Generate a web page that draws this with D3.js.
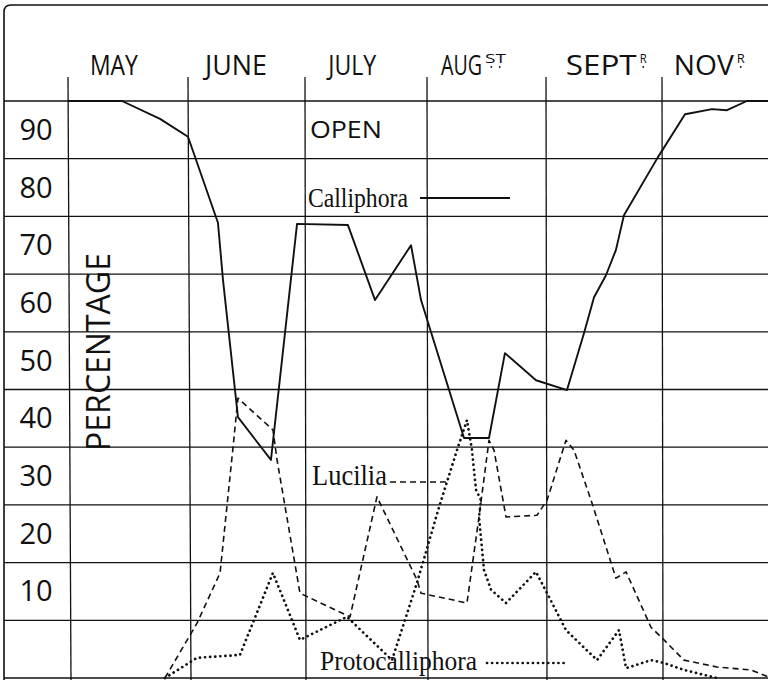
<!DOCTYPE html>
<html><head><meta charset="utf-8">
<script src="https://cdn.jsdelivr.net/npm/d3@7/dist/d3.min.js"></script>
<style>html,body{margin:0;padding:0;background:#fff;} svg{display:block;}</style>
</head><body>
<svg id="c" width="768" height="680"></svg>
<script>
// ---- data ----
const months = ["MAY", "JUNE", "JULY", "AUG", "SEPT", "NOV"];
const monthSup = ["", "", "", "ST", "R", "R"];
const yTicks = [90, 80, 70, 60, 50, 40, 30, 20, 10];
const seriesNames = ["Calliphora", "Lucilia", "Protocalliphora"];
const annotation = "OPEN";
const axisTitle = "PERCENTAGE";

// month position (0 = start of May column, each unit one column)
const calliphoraMonth = [0, 0.45, 0.767, 1.0, 1.256, 1.299, 1.427, 1.709, 1.932, 2.352, 2.574, 2.869, 2.951, 3.311, 3.521, 3.655, 3.916, 4.181, 4.328, 4.414, 4.517, 4.603, 4.672, 4.96, 5.195, 5.424, 5.551, 5.72, 5.898];
const calliphoraPct = [100, 100, 96.9, 93.8, 78.9, 69.0, 45.2, 37.8, 78.7, 78.5, 65.5, 75.0, 65.5, 41.6, 41.6, 56.3, 51.6, 49.9, 59.8, 66.0, 69.8, 74.2, 80.2, 90.1, 97.7, 98.6, 98.4, 100, 100];

const luciliaMonth = [0.808, 1.077, 1.274, 1.385, 1.427, 1.726, 1.761, 1.957, 2.369, 2.59, 2.918, 2.951, 3.336, 3.437, 3.521, 3.563, 3.664, 3.924, 4.009, 4.172, 4.241, 4.397, 4.603, 4.69, 4.905, 5.017, 5.186, 5.466, 5.754, 5.898];
const luciliaPct = [0, 9.5, 18.2, 40.0, 48.5, 43.0, 37.8, 14.7, 10.6, 31.4, 17.0, 14.7, 13.0, 27.9, 41.2, 39.5, 27.9, 28.2, 30.8, 41.2, 39.5, 30.3, 17.3, 18.4, 8.8, 6.6, 3.1, 1.9, 1.4, 0.2];

const protoMonth = [0.808, 1.077, 1.444, 1.726, 1.957, 2.344, 2.713, 2.918, 3.101, 3.252, 3.336, 3.378, 3.412, 3.454, 3.437, 3.479, 3.538, 3.664, 3.916, 4.009, 4.172, 4.44, 4.629, 4.69, 4.905, 5.017, 5.186, 5.466];
const protoPct = [0, 3.5, 4.0, 18.2, 6.6, 10.6, 3.1, 16.5, 29.6, 39.5, 44.7, 39.5, 32.6, 30.8, 27.9, 18.7, 15.3, 13.0, 18.4, 14.7, 8.3, 3.1, 8.3, 1.7, 3.1, 2.6, 1.4, 0];

// ---- layout ----
const svg = d3.select("#c");
const INK = "#111";
const x = d3.scaleLinear().domain([0, 1, 2, 3, 4, 5, 6]).range([68, 188, 305, 427, 546, 662, 780]);
const y = d3.scaleLinear().domain([0, 100]).range([678, 101]);
const handFont = "'Open Sans', 'DejaVu Sans', sans-serif";
const scriptFont = "'Liberation Serif', 'DejaVu Serif', serif";

// text fitted to a width by horizontal scaling (keeps bbox honest)
function fitText(str, px, py, width, size, family, rotate) {
  const g = svg.append("g");
  const t = g.append("text").text(str)
    .attr("font-family", family).attr("font-size", size).attr("fill", INK);
  const natural = t.node().getComputedTextLength() || width;
  const k = width / natural;
  if (rotate) {
    t.attr("text-anchor", "middle");
    g.attr("transform", `translate(${px},${py}) rotate(-90) scale(${k},1)`);
  } else {
    g.attr("transform", `translate(${px},${py}) scale(${k},1)`);
  }
  return g;
}

// frame
svg.append("path")
  .attr("d", "M4,680 L4,12 Q4,5 11,5 L768,5")
  .attr("fill", "none").attr("stroke", INK).attr("stroke-width", 1.6);

// horizontal grid
svg.append("g").selectAll("line").data(d3.range(0, 101, 10)).join("line")
  .attr("x1", 4).attr("x2", 768)
  .attr("y1", d => y(d)).attr("y2", d => y(d))
  .attr("stroke", INK).attr("stroke-width", 1.3);

// vertical grid (label column edge + month columns)
svg.append("g").selectAll("line").data(d3.range(0, 6)).join("line")
  .attr("x1", d => x(d)).attr("x2", d => x(d) + (d < 2 ? 3 : 1))
  .attr("y1", 77).attr("y2", 680)
  .attr("stroke", INK).attr("stroke-width", 1.3);

// month labels
const monthStart = [0.183, 1.145, 2.19, 3.118, 4.17, 5.10];
const monthWidth = [48, 62, 48, 41, 71, 60];
const supWidth = [0, 0, 0, 21, 7, 8];
months.forEach((m, i) => {
  const sx = x(monthStart[i]);
  fitText(m, sx, 75, monthWidth[i], 27, handFont);
  if (monthSup[i]) {
    const tx = sx + monthWidth[i] + 3;
    fitText(monthSup[i], tx, 63, supWidth[i], 12, handFont);
    const nd = monthSup[i].length;
    for (let k = 0; k < nd; k++) {
      svg.append("circle")
        .attr("cx", tx + supWidth[i] * (nd === 1 ? 0.5 : (k === 0 ? 0.3 : 0.7)))
        .attr("cy", 67).attr("r", 0.9).attr("fill", INK);
    }
  }
});

// y labels
svg.append("g").selectAll("text").data(yTicks).join("text")
  .text(d => d)
  .attr("x", 36).attr("y", d => y(d + 5) + 10)
  .attr("text-anchor", "middle")
  .attr("font-family", handFont).attr("font-size", 29).attr("fill", INK);

// axis title
fitText(axisTitle, 110, 352, 198, 33, handFont, true);

// annotation
fitText(annotation, x(2.04), 138, 72, 24, handFont);

// series
const line = d3.line().x(d => x(d[0])).y(d => y(d[1]));
const series = [
  { pts: d3.zip(calliphoraMonth, calliphoraPct), dash: null, w: 1.9, cap: "butt" },
  { pts: d3.zip(luciliaMonth, luciliaPct), dash: "6,4", w: 1.6, cap: "butt" },
  { pts: d3.zip(protoMonth, protoPct), dash: "0.1,5", w: 2.7, cap: "round" }
];
series.forEach(s => {
  svg.append("path").attr("d", line(s.pts))
    .attr("fill", "none").attr("stroke", INK)
    .attr("stroke-width", s.w).attr("stroke-linejoin", "round")
    .attr("stroke-linecap", s.cap)
    .attr("stroke-dasharray", s.dash);
});

// legend labels (inline)
const legend = [
  { tx: 308, ty: 207, tw: 100, fs: 27, lx1: 420, lx2: 510, ly: 198 },
  { tx: 312, ty: 485, tw: 75, fs: 30, lx1: 390, lx2: 447, ly: 482 },
  { tx: 320, ty: 670, tw: 157, fs: 27, lx1: 487, lx2: 567, ly: 663 }
];
legend.forEach((l, i) => {
  fitText(seriesNames[i], l.tx, l.ty, l.tw, l.fs, scriptFont);
  svg.append("line")
    .attr("x1", l.lx1).attr("x2", l.lx2).attr("y1", l.ly).attr("y2", l.ly)
    .attr("stroke", INK)
    .attr("stroke-width", series[i].w)
    .attr("stroke-linecap", series[i].cap)
    .attr("stroke-dasharray", series[i].dash);
});
</script>
</body></html>
